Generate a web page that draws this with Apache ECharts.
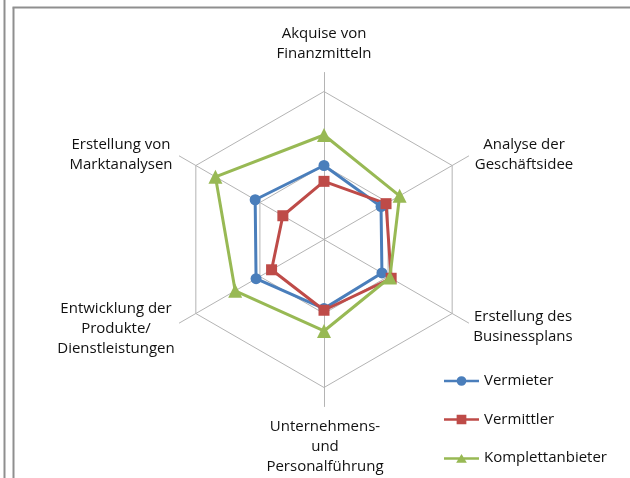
<!DOCTYPE html>
<html>
<head>
<meta charset="utf-8">
<script src="https://cdn.jsdelivr.net/npm/echarts@6/dist/echarts.min.js"></script>
<style>
html,body{margin:0;padding:0;background:#fff;}
#chart{width:630px;height:478px;}
</style>
</head>
<body>
<div id="chart"></div>
<script>
// Categories in drawing order (counter-clockwise from top)
var categories = [
  'Akquise von\nFinanzmitteln',
  'Erstellung von\nMarktanalysen',
  'Entwicklung der\nProdukte/\nDienstleistungen',
  'Unternehmens-\nund\nPersonalführung',
  'Erstellung des\nBusinessplans',
  'Analyse der\nGeschäftsidee'
];
var seriesNames = ['Vermieter', 'Vermittler', 'Komplettanbieter'];
var vermieter        = [50, 53.7, 53, 46.7, 45.2, 44.5];
var vermittler       = [39.3, 32.1, 40.9, 47.8, 52.4, 48.4];
var komplettanbieter = [70.6, 84.7, 69.3, 61.8, 51.4, 59];
var axisMax = 100;

// label anchor points (layout only)
var labelAnchors = [[324, 44], [121, 155], [116, 329], [325, 447], [523, 327], [524, 155]];

var colors = ['#4A7EBB', '#BE4B48', '#98B954'];
var symbols = ['circle', 'rect', 'triangle'];
var symbolSizes = [11, 11, 14];
var legendIcons = [
  'path://M0,3.75L13.2,3.75L13.2,6.25L0,6.25Z M22.8,3.75L36,3.75L36,6.25L22.8,6.25Z M13,5A5,5 0 1,1 23,5A5,5 0 1,1 13,5Z',
  'path://M0,3.75L36,3.75L36,6.25L0,6.25Z M13,0L23,0L23,10L13,10Z',
  'path://M0,4.25L36,4.25L36,6.75L0,6.75Z M18,1L23.5,10L12.5,10Z M18,0L18.01,0L18,0Z'
];
var values = [vermieter, vermittler, komplettanbieter];

var indicators = categories.map(function (c) { return { name: c, max: axisMax, min: 0 }; });
var gridColor = '#b4b4b4';
var font = '15px "Open Sans"';

var graphics = categories.map(function (c, i) {
  return {
    type: 'text',
    x: labelAnchors[i][0],
    y: labelAnchors[i][1],
    silent: true,
    style: {
      text: c,
      font: font,
      fill: '#111',
      align: 'center',
      verticalAlign: 'middle',
      lineHeight: 20
    }
  };
});
// outer frame lines
graphics.push(
  { type: 'line', silent: true, shape: { x1: 4.5, y1: 0, x2: 4.5, y2: 478 }, style: { stroke: '#8f8f8f', lineWidth: 2 } },
  { type: 'line', silent: true, shape: { x1: 13.5, y1: 7.5, x2: 13.5, y2: 478 }, style: { stroke: '#8f8f8f', lineWidth: 2 } },
  { type: 'line', silent: true, shape: { x1: 12.5, y1: 7.5, x2: 630, y2: 7.5 }, style: { stroke: '#8f8f8f', lineWidth: 2 } }
);

var chart = echarts.init(document.getElementById('chart'), null, { renderer: 'canvas' });
chart.setOption({
  backgroundColor: '#fff',
  animation: false,
  color: colors,
  legend: {
    orient: 'vertical',
    left: 444,
    top: 371,
    padding: 0,
    itemWidth: 35,
    itemHeight: 10,
    itemGap: 18.5,
    textStyle: { fontFamily: 'Open Sans', fontSize: 15, color: '#111', lineHeight: 20 },
    itemStyle: { borderWidth: 0 },
    data: seriesNames.map(function (n, i) { return { name: n, icon: legendIcons[i] }; })
  },
  radar: [
    {
      center: [324, 239.5],
      radius: 148,
      startAngle: 90,
      shape: 'polygon',
      splitNumber: 2,
      indicator: indicators,
      axisName: { show: false },
      axisLine: { show: false },
      axisTick: { show: false },
      axisLabel: { show: false },
      splitLine: { show: true, lineStyle: { color: gridColor, width: 1 } },
      splitArea: { show: false }
    },
    {
      center: [324, 239.5],
      radius: 167,
      startAngle: 90,
      shape: 'polygon',
      splitNumber: 1,
      indicator: indicators,
      axisName: { show: false },
      axisLine: { show: true, lineStyle: { color: gridColor, width: 1 } },
      axisTick: { show: false },
      axisLabel: { show: false },
      splitLine: { show: false },
      splitArea: { show: false }
    }
  ],
  series: seriesNames.map(function (n, i) {
    return {
      type: 'radar',
      name: n,
      radarIndex: 0,
      symbol: symbols[i],
      symbolSize: symbolSizes[i],
      lineStyle: { color: colors[i], width: 3 },
      itemStyle: { color: colors[i], borderWidth: 0 },
      data: [{ name: n, value: values[i] }]
    };
  }),
  graphic: graphics
});
</script>
</body>
</html>
